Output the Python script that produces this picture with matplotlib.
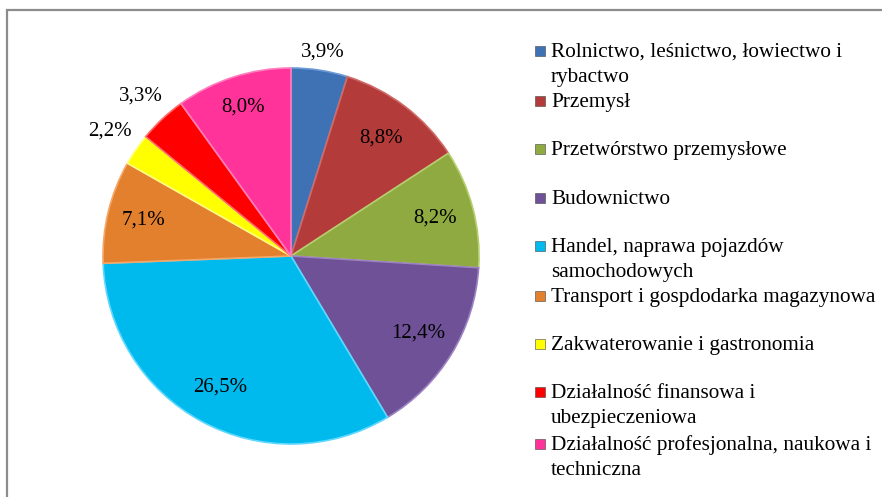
import numpy as np
import matplotlib
matplotlib.use("Agg")
import matplotlib.pyplot as plt
from matplotlib.patches import Rectangle

plt.rcParams['font.family'] = ['Liberation Serif', 'DejaVu Serif']

categories = [
    "Rolnictwo, leśnictwo, łowiectwo i\nrybactwo",
    "Przemysł",
    "Przetwórstwo przemysłowe",
    "Budownictwo",
    "Handel, naprawa pojazdów\nsamochodowych",
    "Transport i gospdodarka magazynowa",
    "Zakwaterowanie i gastronomia",
    "Działalność finansowa i\nubezpieczeniowa",
    "Działalność profesjonalna, naukowa i\ntechniczna",
]
values = [3.9, 8.8, 8.2, 12.4, 26.5, 7.1, 2.2, 3.3, 8.0]
value_labels = ["3,9%", "8,8%", "8,2%", "12,4%", "26,5%", "7,1%", "2,2%", "3,3%", "8,0%"]
colors = ["#3F72B4", "#B33C3A", "#8EAA40", "#6E5196", "#00BAEE",
          "#E3802E", "#FFFF00", "#FF0000", "#FF3399"]
edge_colors = ["#6B9AD6", "#D06A68", "#B5CF6E", "#9D82C2", "#5FD8FF",
               "#F6A766", "#FFFF80", "#FF6A6A", "#FF7DBD"]
label_dist = [1.10, 0.79, 0.79, 0.79, 0.79, 0.81, 1.17, 1.17, 0.83]

W, H = 882, 497
fig = plt.figure(figsize=(W / 100, H / 100), dpi=100)

# frame
fig.patches.append(Rectangle((7 / W, -0.1), 1.2, 1 - 10 / H + 0.1,
                             transform=fig.transFigure, fill=False,
                             edgecolor="#8C8C8C", linewidth=1.6))

cx, cy, R = 291, 256, 188
ax = fig.add_axes([(cx - R) / W, (H - cy - R) / H, 2 * R / W, 2 * R / H])

wedges, _ = ax.pie(values, colors=colors, startangle=90, counterclock=False,
                   radius=1.0, wedgeprops=dict(linewidth=1.2))
ax.set_xlim(-1, 1)
ax.set_ylim(-1, 1)
ax.set_aspect("equal", adjustable="box")
ax.axis("off")
for w, ec in zip(wedges, edge_colors):
    w.set_edgecolor(ec)

for w, lab, d in zip(wedges, value_labels, label_dist):
    ang = np.deg2rad((w.theta1 + w.theta2) / 2)
    ax.text(d * np.cos(ang), d * np.sin(ang), lab, ha="center", va="center",
            fontsize=15, color="black")

# legend
baselines = [57, 107, 155, 204, 252, 302, 350, 398, 450]
line_step = 25
for cat, col, yb in zip(categories, colors, baselines):
    fig.patches.append(Rectangle((535 / W, 1 - (yb - 1) / H), 10 / W, 10 / H,
                                 transform=fig.transFigure, facecolor=col,
                                 edgecolor="#444444", linewidth=0.4))
    for k, line in enumerate(cat.split("\n")):
        fig.text(551 / W, 1 - (yb + k * line_step) / H, line, ha="left",
                 va="baseline", fontsize=15.3)

fig.savefig("out.png", dpi=100)
